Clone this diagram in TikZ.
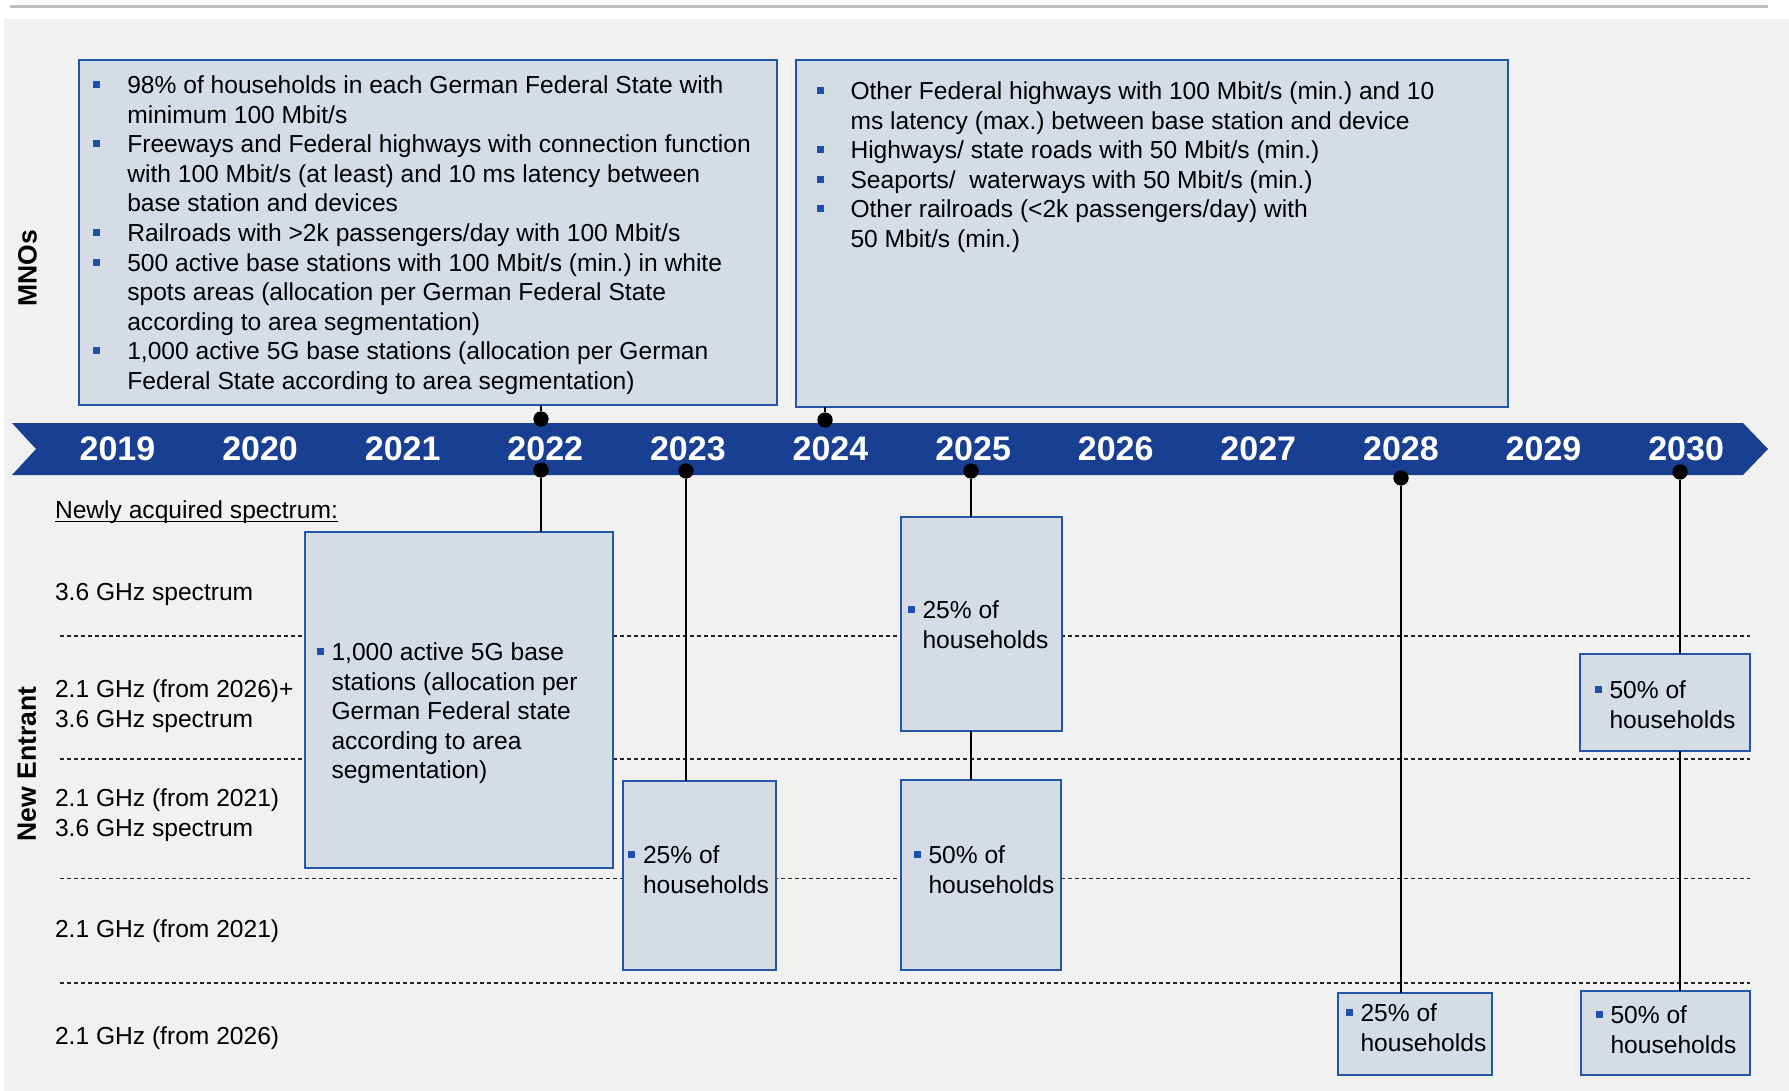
\documentclass[tikz,border=0pt]{standalone}
\usepackage{fontspec}
\setmainfont{Liberation Sans}
\frenchspacing
\definecolor{bandblue}{RGB}{24,63,145}
\definecolor{boxblue}{RGB}{36,86,168}
\definecolor{boxfill}{RGB}{214,220,229}
\definecolor{bulblue}{RGB}{30,80,170}
\definecolor{bggray}{RGB}{241,241,241}
\definecolor{topgray}{RGB}{191,191,191}
\newcommand\bodyfont{\fontsize{24.6}{29.6}\selectfont\frenchspacing}
\newcommand\bsq{\textcolor{bulblue}{\rule[5.5pt]{7pt}{7pt}}}
\newcommand\bI{\makebox[34pt][l]{\bsq}}
\newcommand\bS{\makebox[15pt][l]{\bsq}}
\begin{document}
\begin{tikzpicture}[x=1pt,y=-1pt,
  bx/.style={draw=boxblue, fill=boxfill, line width=2.8pt, inner sep=0pt, outer sep=0pt},
  txt/.style={inner sep=0pt, outer sep=0pt, anchor=base west, font=\bodyfont, text=black},
  yr/.style={inner sep=0pt, anchor=base, font=\fontsize{34}{40}\selectfont\bfseries, text=white},
  dotn/.style={circle, fill=black, minimum size=15pt, inner sep=0pt},
  conn/.style={line width=2.2pt, black},
  sepline/.style={line width=1.2pt, dash pattern=on 4pt off 3pt, black!85},
  side/.style={rotate=90, font=\fontsize{26.5}{30}\selectfont\bfseries, inner sep=0pt}
]
\useasboundingbox (0,0) rectangle (1789,1091);
\fill[white] (0,0) rectangle (1789,1091);
\fill[bggray] (4,19) rectangle (1789,1091);
\draw[topgray, line width=2.5pt] (10,6.5) -- (1768,6.5);

% dashed separators
\foreach \yy in {636,759,878.5,983} \draw[sepline] (60,\yy) -- (1750,\yy);

% timeline band
\fill[bandblue] (12,423) -- (1743,423) -- (1768,449) -- (1743,475) -- (12,475) -- (36,449) -- cycle;
\foreach \yv [count=\i from 0] in {2019,2020,2021,2022,2023,2024,2025,2026,2027,2028,2029,2030}
  \node[yr] (y\yv) at ({117.5+142.6*\i},460) {\yv};

% side labels
\node[side] (mno) at (27.5,268.5) {MNOs};
\node[side] (ne) at (27,764) {New Entrant};

% dots
\node[dotn] (d22u) at (541,419) {};
\node[dotn] (d24u) at (825,420) {};
\node[dotn] (d22l) at (541,470) {};
\node[dotn] (d23l) at (686,471) {};
\node[dotn] (d25l) at (971,471) {};
\node[dotn] (d28l) at (1401,478) {};
\node[dotn] (d30l) at (1680,472) {};

% boxes
\node[bx, minimum width=698pt, minimum height=345pt] (b1) at (428,232.5) {};
\node[bx, minimum width=712pt, minimum height=347pt] (b2) at (1152,233.5) {};
\node[bx, minimum width=308pt, minimum height=336pt] (bA) at (459,700) {};
\node[bx, minimum width=153pt, minimum height=189pt] (bB) at (699.5,875.5) {};
\node[bx, minimum width=161pt, minimum height=214pt] (bC) at (981.5,624) {};
\node[bx, minimum width=160pt, minimum height=190pt] (bD) at (981,875) {};
\node[bx, minimum width=154pt, minimum height=82pt] (bE) at (1415,1034) {};
\node[bx, minimum width=170pt, minimum height=97pt] (bF) at (1665,702.5) {};
\node[bx, minimum width=169pt, minimum height=84pt] (bG) at (1665.5,1033) {};

% connectors
\draw[conn] (d22u) -- (d22u |- b1.south);
\draw[conn] (d24u) -- (d24u |- b2.south);
\draw[conn] (d22l) -- (d22l |- bA.north);
\draw[conn] (d23l) -- (d23l |- bB.north);
\draw[conn] (d25l) -- (d25l |- bC.north);
\draw[conn] (bC.south -| d25l) -- (bD.north -| d25l);
\draw[conn] (d28l) -- (d28l |- bE.north);
\draw[conn] (d30l) -- (d30l |- bF.north);
\draw[conn] (bF.south -| d30l) -- (bG.north -| d30l);
% redraw dots above lines
\foreach \d in {d22u,d24u,d22l,d23l,d25l,d28l,d30l} \fill[black] (\d) circle (7.5pt);

% box texts
\node[txt] (t1) at (93.3,93.5) {\begin{tabular}[t]{@{}l@{}l@{}}
\bI & 98\% of households in each German Federal State with\\
 & minimum 100 Mbit/s\\
\bI & Freeways and Federal highways with connection function\\
 & with 100 Mbit/s (at least) and 10 ms latency between\\
 & base station and devices\\
\bI & Railroads with >2k passengers/day with 100 Mbit/s\\
\bI & 500 active base stations with 100 Mbit/s (min.) in white\\
 & spots areas (allocation per German Federal State\\
 & according to area segmentation)\\
\bI & 1,000 active 5G base stations (allocation per German\\
 & Federal State according to area segmentation)
\end{tabular}};
\node[txt] (t2) at (816.5,99.5) {\begin{tabular}[t]{@{}l@{}l@{}}
\bI & Other Federal highways with 100 Mbit/s (min.) and 10\\
 & ms latency (max.) between base station and device\\
\bI & Highways/ state roads with 50 Mbit/s (min.)\\
\bI & Seaports/~ waterways with 50 Mbit/s (min.)\\
\bI & Other railroads (<2k passengers/day) with\\
 & 50 Mbit/s (min.)
\end{tabular}};
\node[txt] (tA) at (316.5,660.5) {\begin{tabular}[t]{@{}l@{}l@{}}
\bS & 1,000 active 5G base\\
 & stations (allocation per\\
 & German Federal state\\
 & according to area\\
 & segmentation)
\end{tabular}};
\node[txt] (tB) at (628,863.5) {\begin{tabular}[t]{@{}l@{}l@{}}
\bS & 25\% of\\ & households\end{tabular}};
\node[txt] (tC) at (907.5,618.5) {\begin{tabular}[t]{@{}l@{}l@{}}
\bS & 25\% of\\ & households\end{tabular}};
\node[txt] (tD) at (913.5,863.5) {\begin{tabular}[t]{@{}l@{}l@{}}
\bS & 50\% of\\ & households\end{tabular}};
\node[txt] (tE) at (1345.5,1021.5) {\begin{tabular}[t]{@{}l@{}l@{}}
\bS & 25\% of\\ & households\end{tabular}};
\node[txt] (tF) at (1594.5,698.5) {\begin{tabular}[t]{@{}l@{}l@{}}
\bS & 50\% of\\ & households\end{tabular}};
\node[txt] (tG) at (1595.5,1023.5) {\begin{tabular}[t]{@{}l@{}l@{}}
\bS & 50\% of\\ & households\end{tabular}};

% left labels
\node[txt] (l0) at (55,518.5) {Newly acquired spectrum:};
\draw[line width=1.5pt] ([yshift=-3pt]l0.base west) -- ([yshift=-3pt]l0.base east);
\node[txt] (l1) at (55,600.5) {3.6 GHz spectrum};
\node[txt] (l2) at (55,697.5) {\begin{tabular}[t]{@{}l@{}}2.1 GHz (from 2026)+\\3.6 GHz spectrum\end{tabular}};
\node[txt] (l3) at (55,806.5) {\begin{tabular}[t]{@{}l@{}}2.1 GHz (from 2021)\\3.6 GHz spectrum\end{tabular}};
\node[txt] (l4) at (55,937.5) {2.1 GHz (from 2021)};
\node[txt] (l5) at (55,1044.5) {2.1 GHz (from 2026)};
\end{tikzpicture}
\end{document}
